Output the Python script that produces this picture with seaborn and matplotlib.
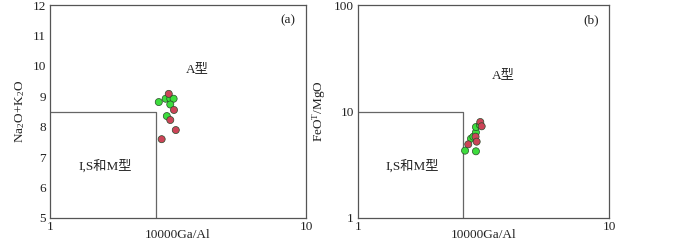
import matplotlib
matplotlib.use("Agg")
import matplotlib.pyplot as plt
import seaborn as sns
import pandas as pd
from matplotlib.ticker import LogLocator, NullFormatter, FixedLocator

sns.set_theme(style="white")
plt.rcParams['font.family'] = ['Liberation Serif', 'Noto Sans CJK SC']
plt.rcParams['mathtext.fontset'] = 'custom'
plt.rcParams['mathtext.rm'] = 'Liberation Serif'
plt.rcParams['mathtext.it'] = 'Liberation Serif'

# Panel (a): 10000Ga/Al vs Na2O+K2O
a_green_x = [2.66, 2.83, 2.95, 3.04, 2.95, 2.86]
a_green_y = [8.81, 8.92, 8.92, 8.92, 8.73, 8.35]
a_red_x = [2.91, 3.05, 2.95, 3.10, 2.73]
a_red_y = [9.08, 8.55, 8.22, 7.89, 7.59]

# Panel (b): 10000Ga/Al vs FeOT/MgO
b_green_x = [2.67, 2.95, 2.82, 2.88, 2.95, 2.95, 3.06]
b_green_y = [4.29, 4.23, 5.56, 5.80, 6.37, 7.15, 7.47]
b_red_x = [3.07, 3.11, 2.94, 2.97, 2.75]
b_red_y = [7.97, 7.26, 5.80, 5.21, 4.92]

groups = ["green", "red"]
palette = {"green": "#3ddc3d", "red": "#cc4458"}

def frame(gx, gy, rx, ry):
    return pd.DataFrame({
        "x": gx + rx,
        "y": gy + ry,
        "g": [groups[0]] * len(gx) + [groups[1]] * len(rx),
    })

dfa = frame(a_green_x, a_green_y, a_red_x, a_red_y)
dfb = frame(b_green_x, b_green_y, b_red_x, b_red_y)

fig = plt.figure(figsize=(7.0, 2.42), dpi=100)
axa = fig.add_axes([50/700, 24/242, 256/700, 213/242])
axb = fig.add_axes([358/700, 24/242, 251/700, 213/242])

spine_c = "#555555"
text_c = "#222222"
fs = 9.5

for ax in (axa, axb):
    ax.set_xscale("log")
    ax.set_xlim(1, 10)
    for s in ax.spines.values():
        s.set_color(spine_c)
        s.set_linewidth(0.9)
    ax.xaxis.set_major_locator(FixedLocator([1, 10]))
    ax.set_xticklabels(["1", "10"])
    ax.xaxis.set_minor_locator(LogLocator(base=10, subs=range(2, 10)))
    ax.xaxis.set_minor_formatter(NullFormatter())
    ax.tick_params(axis="both", which="major", direction="in", length=4,
                   color=spine_c, labelsize=fs, labelcolor=text_c, pad=3)
    ax.tick_params(axis="x", which="major", pad=2)
    ax.tick_params(axis="both", which="minor", direction="in", length=2.5, color=spine_c)
    ax.tick_params(top=False, right=False, which="both")

# Panel (a)
axa.set_ylim(5, 12)
axa.set_yticks([5, 6, 7, 8, 9, 10, 11, 12])
axa.plot([1, 2.6, 2.6], [8.5, 8.5, 5], color="#666666", lw=0.9)
sns.scatterplot(data=dfa, x="x", y="y", hue="g", palette=palette, ax=axa,
                s=26, edgecolor="#2a4a2a", linewidth=0.5, legend=False, zorder=3)
axa.set_ylabel(r"Na$_2$O+K$_2$O", fontsize=fs, color=text_c, labelpad=4)
axa.set_xlabel("10000Ga/Al", fontsize=fs, color=text_c, labelpad=-3)
axa.text(0.93, 0.93, "(a)", transform=axa.transAxes, fontsize=fs,
         ha="center", va="center", color=text_c)
axa.text(3.75, 9.91, "A型", fontsize=fs, ha="center", va="center", color=text_c)
axa.text(1.64, 6.69, "I,S和M型", fontsize=fs, ha="center", va="center", color=text_c)

# Panel (b)
axb.set_yscale("log")
axb.set_ylim(1, 100)
axb.yaxis.set_major_locator(FixedLocator([1, 10, 100]))
axb.set_yticklabels(["1", "10", "100"])
axb.yaxis.set_minor_locator(LogLocator(base=10, subs=range(2, 10)))
axb.yaxis.set_minor_formatter(NullFormatter())
axb.tick_params(axis="y", which="major", direction="in", length=4, color=spine_c,
                labelsize=fs, labelcolor=text_c, pad=3)
axb.tick_params(axis="y", which="minor", direction="in", length=2.5, color=spine_c)
axb.plot([1, 2.63, 2.63], [10, 10, 1], color="#666666", lw=0.9)
sns.scatterplot(data=dfb, x="x", y="y", hue="g", palette=palette, ax=axb,
                s=26, edgecolor="#2a4a2a", linewidth=0.5, legend=False, zorder=3)
axb.set_ylabel(r"FeO$^{\mathrm{T}}$/MgO", fontsize=fs, color=text_c, labelpad=4)
axb.set_xlabel("10000Ga/Al", fontsize=fs, color=text_c, labelpad=-3)
axb.text(0.93, 0.93, "(b)", transform=axb.transAxes, fontsize=fs,
         ha="center", va="center", color=text_c)
axb.text(3.81, 22.2, "A型", fontsize=fs, ha="center", va="center", color=text_c)
axb.text(1.64, 3.05, "I,S和M型", fontsize=fs, ha="center", va="center", color=text_c)

fig.savefig("out.png", dpi=100)
